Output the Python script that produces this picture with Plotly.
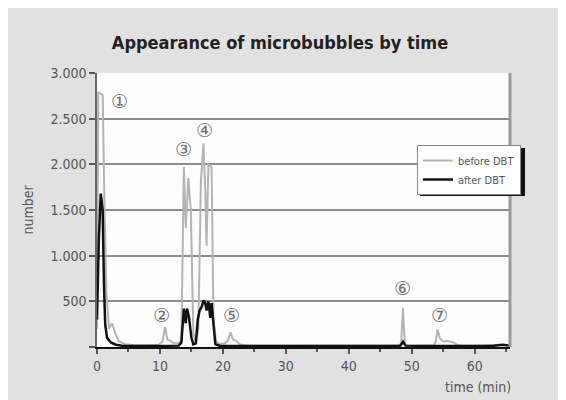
import plotly.graph_objects as go

# ---------------- data ----------------
before_t = [0, 0.2, 0.4, 0.9, 1.2, 1.5, 1.9, 2.4, 2.9, 3.5, 4.5, 6, 8, 9.8, 10.4, 10.8, 11.2,
            11.6, 12.2, 13.0, 13.4, 13.8, 14.1, 14.5, 14.9, 15.3, 15.7, 16.1, 16.5, 16.9, 17.2,
            17.4, 17.7, 18.2, 18.5, 18.9, 19.5, 20.3, 20.8, 21.2, 21.6, 22.1, 22.6, 23.5, 26, 30,
            35, 40, 45, 47.8, 48.3, 48.6, 48.9, 49.3, 50, 52, 53.5, 53.8, 54.1, 54.5, 55.0, 55.6,
            56.4, 57.2, 58, 60, 62, 64, 65.5]
before_v = [200, 2790, 2780, 2760, 1500, 600, 200, 260, 150, 60, 30, 20, 20, 25, 60, 220, 80,
            70, 40, 40, 80, 1970, 1300, 1850, 1500, 150, 50, 200, 1800, 2230, 1700,
            1110, 2000, 1970, 300, 60, 30, 40, 70, 160, 80, 70, 30, 20, 15, 15,
            15, 15, 15, 20, 30, 430, 30, 15, 15, 15, 20, 60, 190, 90, 60, 65,
            55, 25, 15, 15, 20, 25, 20]

after_t = [0, 0.3, 0.6, 0.9, 1.1, 1.3, 1.6, 2.2, 3, 4, 6, 10, 13.0, 13.4, 13.8, 14.1, 14.3,
           14.6, 15.0, 15.3, 15.7, 16.0, 16.3, 16.7, 16.9, 17.2, 17.4, 17.7, 18.0, 18.2, 18.5,
           18.8, 19.5, 25, 35, 45, 48.2, 48.6, 49.0, 55, 60, 63, 64.5, 65.5]
after_v = [300, 1200, 1680, 1500, 700, 250, 100, 50, 25, 15, 10, 10, 15, 50, 420, 260, 420,
           330, 100, 30, 40, 300, 400, 450, 510, 480, 400, 500, 320, 480, 250,
           30, 15, 10, 10, 10, 15, 60, 15, 10, 10, 15, 25, 15]

series_names = ["before DBT", "after DBT"]

x_ticks = [0, 10, 20, 30, 40, 50, 60]
x_minor = [5, 15, 25, 35, 45, 55, 65]
y_ticks = [0, 500, 1000, 1500, 2000, 2500, 3000]
y_ticktext = ["", "500", "1.000", "1.500", "2.000", "2.500", "3.000"]

peak_labels = ["①", "②", "③", "④", "⑤", "⑥", "⑦"]
peak_x = [3.5, 10.3, 13.7, 17.0, 21.4, 48.6, 54.4]
peak_y = [2690, 350, 2170, 2380, 350, 650, 350]

# ---------------- layout geometry (figure pixel coords) ----------------
W, H = 566, 400
ML, MR, MT, MB = 89, 64, 65, 61
PW, PH = W - ML - MR, H - MT - MB


def px(xp):
    return (xp - ML) / PW


def py(yp):
    return 1 - (yp - MT) / PH


FONT = "DejaVu Sans Condensed, Liberation Sans Narrow, Arial Narrow, sans-serif"

fig = go.Figure()
fig.add_trace(go.Scatter(x=before_t, y=before_v, mode="lines", name=series_names[0],
                         line=dict(color="#b4b4b4", width=2)))
fig.add_trace(go.Scatter(x=after_t, y=after_v, mode="lines", name=series_names[1],
                         line=dict(color="#111111", width=2.5)))

annotations = []
for lab, xv, yv in zip(peak_labels, peak_x, peak_y):
    annotations.append(dict(x=xv, y=yv, xref="x", yref="y", text=lab, showarrow=False,
                            font=dict(size=19, color="#707070",
                                      family="DejaVu Sans, Noto Sans CJK JP")))
annotations.append(dict(x=px(505), y=py(379), xref="paper", yref="paper", text="time (min)",
                        showarrow=False, xanchor="right", yanchor="middle",
                        font=dict(size=14, color="#555555", family=FONT)))

LEG_X, LEG_Y = 409, 137
LEG_W, LEG_H = 105, 48
shapes = [
    # dark 500 grid line
    dict(type="line", xref="paper", yref="y", x0=0, x1=1, y0=500, y1=500,
         line=dict(color="#222222", width=1.5), layer="between"),
    # right border
    dict(type="line", xref="paper", yref="paper", x0=1, x1=1, y0=0, y1=1,
         line=dict(color="#9a9a9a", width=3), layer="above"),
    # legend shadow
    dict(type="rect", xref="paper", yref="paper",
         x0=px(LEG_X + 3), x1=px(LEG_X + LEG_W + 3),
         y0=py(LEG_Y + LEG_H + 3), y1=py(LEG_Y + 3),
         fillcolor="#111111", line=dict(width=0), layer="above"),
]

fig.update_layout(
    width=W, height=H,
    margin=dict(l=ML, r=MR, t=MT, b=MB, autoexpand=False),
    paper_bgcolor="#e1e1e1",
    plot_bgcolor="#fdfdfd",
    title=dict(text="<b>Appearance of microbubbles by time</b>", x=272 / W, xref="container",
               xanchor="center", y=1 - 35 / H, yanchor="middle",
               font=dict(size=18, color="#222222", family=FONT)),
    showlegend=True,
    legend=dict(x=px(LEG_X), y=py(LEG_Y), xanchor="left", yanchor="top",
                bgcolor="white", bordercolor="#8a8a8a", borderwidth=1,
                font=dict(size=11, color="#555555", family=FONT),
                itemwidth=30, tracegroupgap=0),
    annotations=annotations,
    shapes=shapes,
    xaxis=dict(range=[0, 65.6], tickvals=x_ticks, ticks="outside", ticklen=5,
               tickcolor="#555555", tickwidth=1.5,
               minor=dict(tickvals=x_minor, ticks="outside", ticklen=3, tickcolor="#555555"),
               showgrid=False, zeroline=False, showline=True, linecolor="#111111", linewidth=2,
               tickfont=dict(size=14, color="#555555", family=FONT)),
    yaxis=dict(range=[0, 3000], tickvals=y_ticks, ticktext=y_ticktext, ticks="outside",
               ticklen=6, tickcolor="#555555", tickwidth=1.5,
               showgrid=True, gridcolor="#8c8c8c", gridwidth=1.5, zeroline=False,
               showline=True, linecolor="#666666", linewidth=1.5,
               tickfont=dict(size=14, color="#555555", family=FONT),
               title=dict(text="number", standoff=14,
                          font=dict(size=14, color="#555555", family=FONT))),
)

fig.write_html("out.html")
